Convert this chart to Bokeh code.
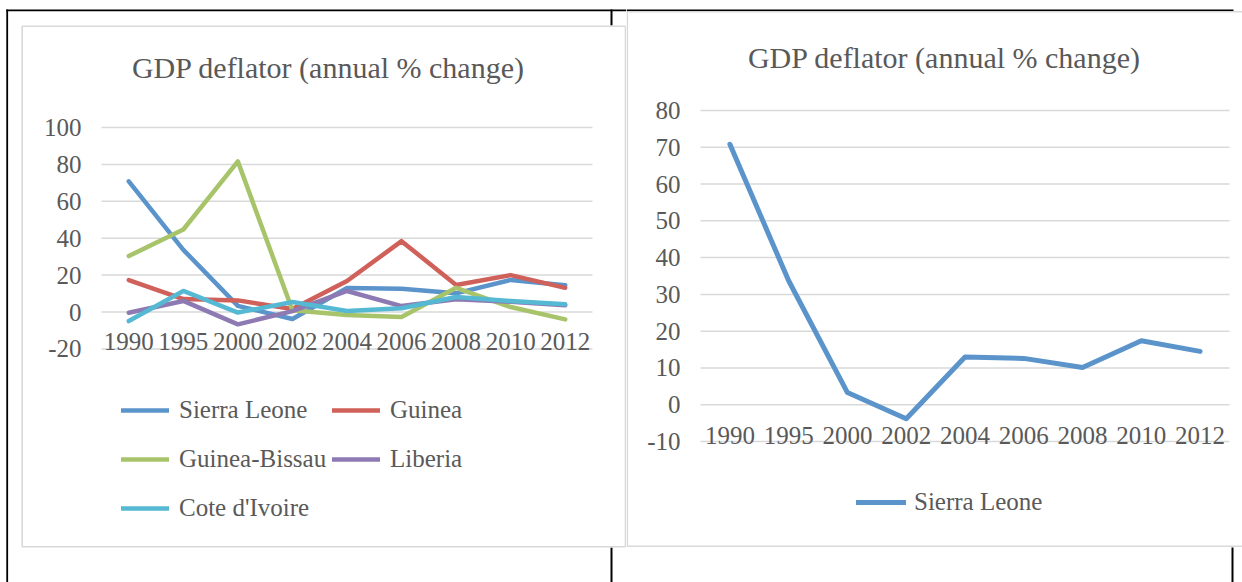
from bokeh.plotting import figure
from bokeh.models import (Range1d, FixedTicker, Label, Legend, LegendItem,
                          BoxAnnotation, LinearAxis)
from bokeh.layouts import row
from bokeh.embed import file_html
from bokeh.resources import INLINE

# ---------------- data ----------------
years = ["1990", "1995", "2000", "2002", "2004", "2006", "2008", "2010", "2012"]
sierra_leone = [70.8, 33.7, 3.3, -3.8, 13.0, 12.6, 10.1, 17.4, 14.5]
guinea = [17.3, 7.0, 6.3, 1.6, 16.8, 38.4, 14.6, 20.0, 13.1]
guinea_bissau = [30.3, 44.7, 81.6, 0.9, -1.6, -2.7, 13.1, 2.7, -4.0]
liberia = [-0.4, 6.0, -6.7, 0.5, 11.4, 3.2, 6.9, 5.6, 3.6]
cote_divoire = [-4.9, 11.4, -0.3, 5.4, 0.5, 2.0, 8.1, 6.0, 4.2]
left_ticks = [-20, 0, 20, 40, 60, 80, 100]
right_ticks = [-10, 0, 10, 20, 30, 40, 50, 60, 70, 80]
title_text = "GDP deflator (annual % change)"

names = ["Sierra Leone", "Guinea", "Guinea-Bissau", "Liberia", "Cote d'Ivoire"]
values = [sierra_leone, guinea, guinea_bissau, liberia, cote_divoire]
colors = ["#5B94CB", "#CF605A", "#A8C46A", "#8D7AB3", "#56B9D3"]

FONT = "Liberation Serif"
TXT = "#595959"
GRID = "#D9D9D9"
BORDER = "#D9D9D9"

xpos = list(range(len(years)))
x_lo, x_hi = -0.5, len(years) - 0.5


def make_fig(width, height, area, ticks):
    """area = (left, right, top, bottom) canvas pixels of the plot area."""
    l, r, t, b = area
    ymin, ymax = ticks[0], ticks[-1]
    sx = (r - l) / (x_hi - x_lo)
    sy = (b - t) / (ymax - ymin)
    xr = Range1d(x_lo - l / sx, x_hi + (width - r) / sx)
    yr = Range1d(ymin - (height - b) / sy, ymax + t / sy)
    p = figure(width=width, height=height, x_range=xr, y_range=yr,
               x_axis_type=None, y_axis_type=None, min_border=0,
               output_backend="svg", toolbar_location=None)
    p.outline_line_color = None
    p.background_fill_color = "white"
    p.border_fill_color = "white"
    p.grid.visible = False
    # horizontal gridlines
    p.segment(x0=x_lo, x1=x_hi, y0=ticks, y1=ticks, line_color=GRID, line_width=1.5)
    return p


def add_axes(p, ticks, xstandoff):
    yax = LinearAxis(fixed_location=x_lo, ticker=FixedTicker(ticks=ticks),
                     major_label_overrides={t: str(t) for t in ticks})
    xax = LinearAxis(fixed_location=ticks[0], ticker=FixedTicker(ticks=xpos),
                     major_label_overrides={i: y for i, y in zip(xpos, years)})
    for ax in (xax, yax):
        ax.axis_line_color = None
        ax.major_tick_line_color = None
        ax.minor_tick_line_color = None
        ax.major_tick_out = 0
        ax.major_tick_in = 0
        ax.major_label_text_font = FONT
        ax.major_label_text_font_size = "25px"
        ax.major_label_text_color = TXT
    yax.major_label_standoff = 20
    xax.major_label_standoff = xstandoff
    p.add_layout(yax, "left")
    p.add_layout(xax, "below")


def box(p, l, r, t, b, fill=None, line=None, lw=1.5):
    p.add_layout(BoxAnnotation(left=l, right=r, top=t, bottom=b,
                               left_units="canvas", right_units="canvas",
                               top_units="canvas", bottom_units="canvas",
                               fill_color=fill if fill else "white",
                               fill_alpha=1.0 if fill else 0.0,
                               line_color=line if line else "white", line_width=lw,
                               line_alpha=1.0 if line else 0.0))


def title(p, x, y):
    p.add_layout(Label(x=x, y=y, x_units="canvas", y_units="canvas", text=title_text,
                       text_align="center", text_baseline="middle", text_font=FONT,
                       text_font_size="30px", text_color=TXT))


def legend(p, items, x, y, gw, standoff):
    lg = Legend(items=items, location=(x, y), orientation="vertical",
                glyph_width=gw, glyph_height=30, label_height=30,
                label_standoff=standoff, spacing=19, padding=0, margin=0,
                border_line_color=None, background_fill_alpha=0,
                label_text_font=FONT, label_text_font_size="25px",
                label_text_color=TXT)
    p.add_layout(lg)


# ---------------- left chart ----------------
W_L, W_R, H = 626, 616, 582
pL = make_fig(W_L, H, (101, 592, 127, 348.4), left_ticks)

# table lines (black) and chart border (gray)
box(pL, 5.8, W_L, 9.0, 10.8, fill="black")
box(pL, 5.8, 7.6, 9.0, H, fill="black")
box(pL, 610, 612, 9.0, 25, fill="black")
box(pL, 610, 612, 547, H, fill="black")
box(pL, 21.7, 625, 25.8, 546.3, line=BORDER, lw=1.6)

add_axes(pL, left_ticks, -16)

rends = {}
for name, vals, col in zip(names, values, colors):
    rends[name] = pL.line(x=xpos, y=vals, line_color=col, line_width=4.5,
                          line_join="round", line_cap="round")

title(pL, 328, 67)
legend(pL, [LegendItem(label=n, renderers=[rends[n]]) for n in names[0::2]], 121, 59, 48, 10)
legend(pL, [LegendItem(label=n, renderers=[rends[n]]) for n in names[1::2]], 332, 108, 48, 10)

# ---------------- right chart ----------------
pR = make_fig(W_R, H, (74, 603, 110, 441), right_ticks)

box(pR, 0, 607, 9.0, 10.8, fill="black")
box(pR, 605, 607, 547, H, fill="black")
box(pR, 0.8, 640, 11.2, 545.8, line=BORDER, lw=1.6)

add_axes(pR, right_ticks, -15)

rR = pR.line(x=xpos, y=sierra_leone, line_color=colors[0], line_width=5,
             line_join="round", line_cap="round")

title(pR, 318, 57)
legend(pR, [LegendItem(label=names[0], renderers=[rR])], 230, 65, 50, 8)

layout = row(pL, pR, spacing=0)
open("out.html", "w").write(file_html(layout, INLINE))
